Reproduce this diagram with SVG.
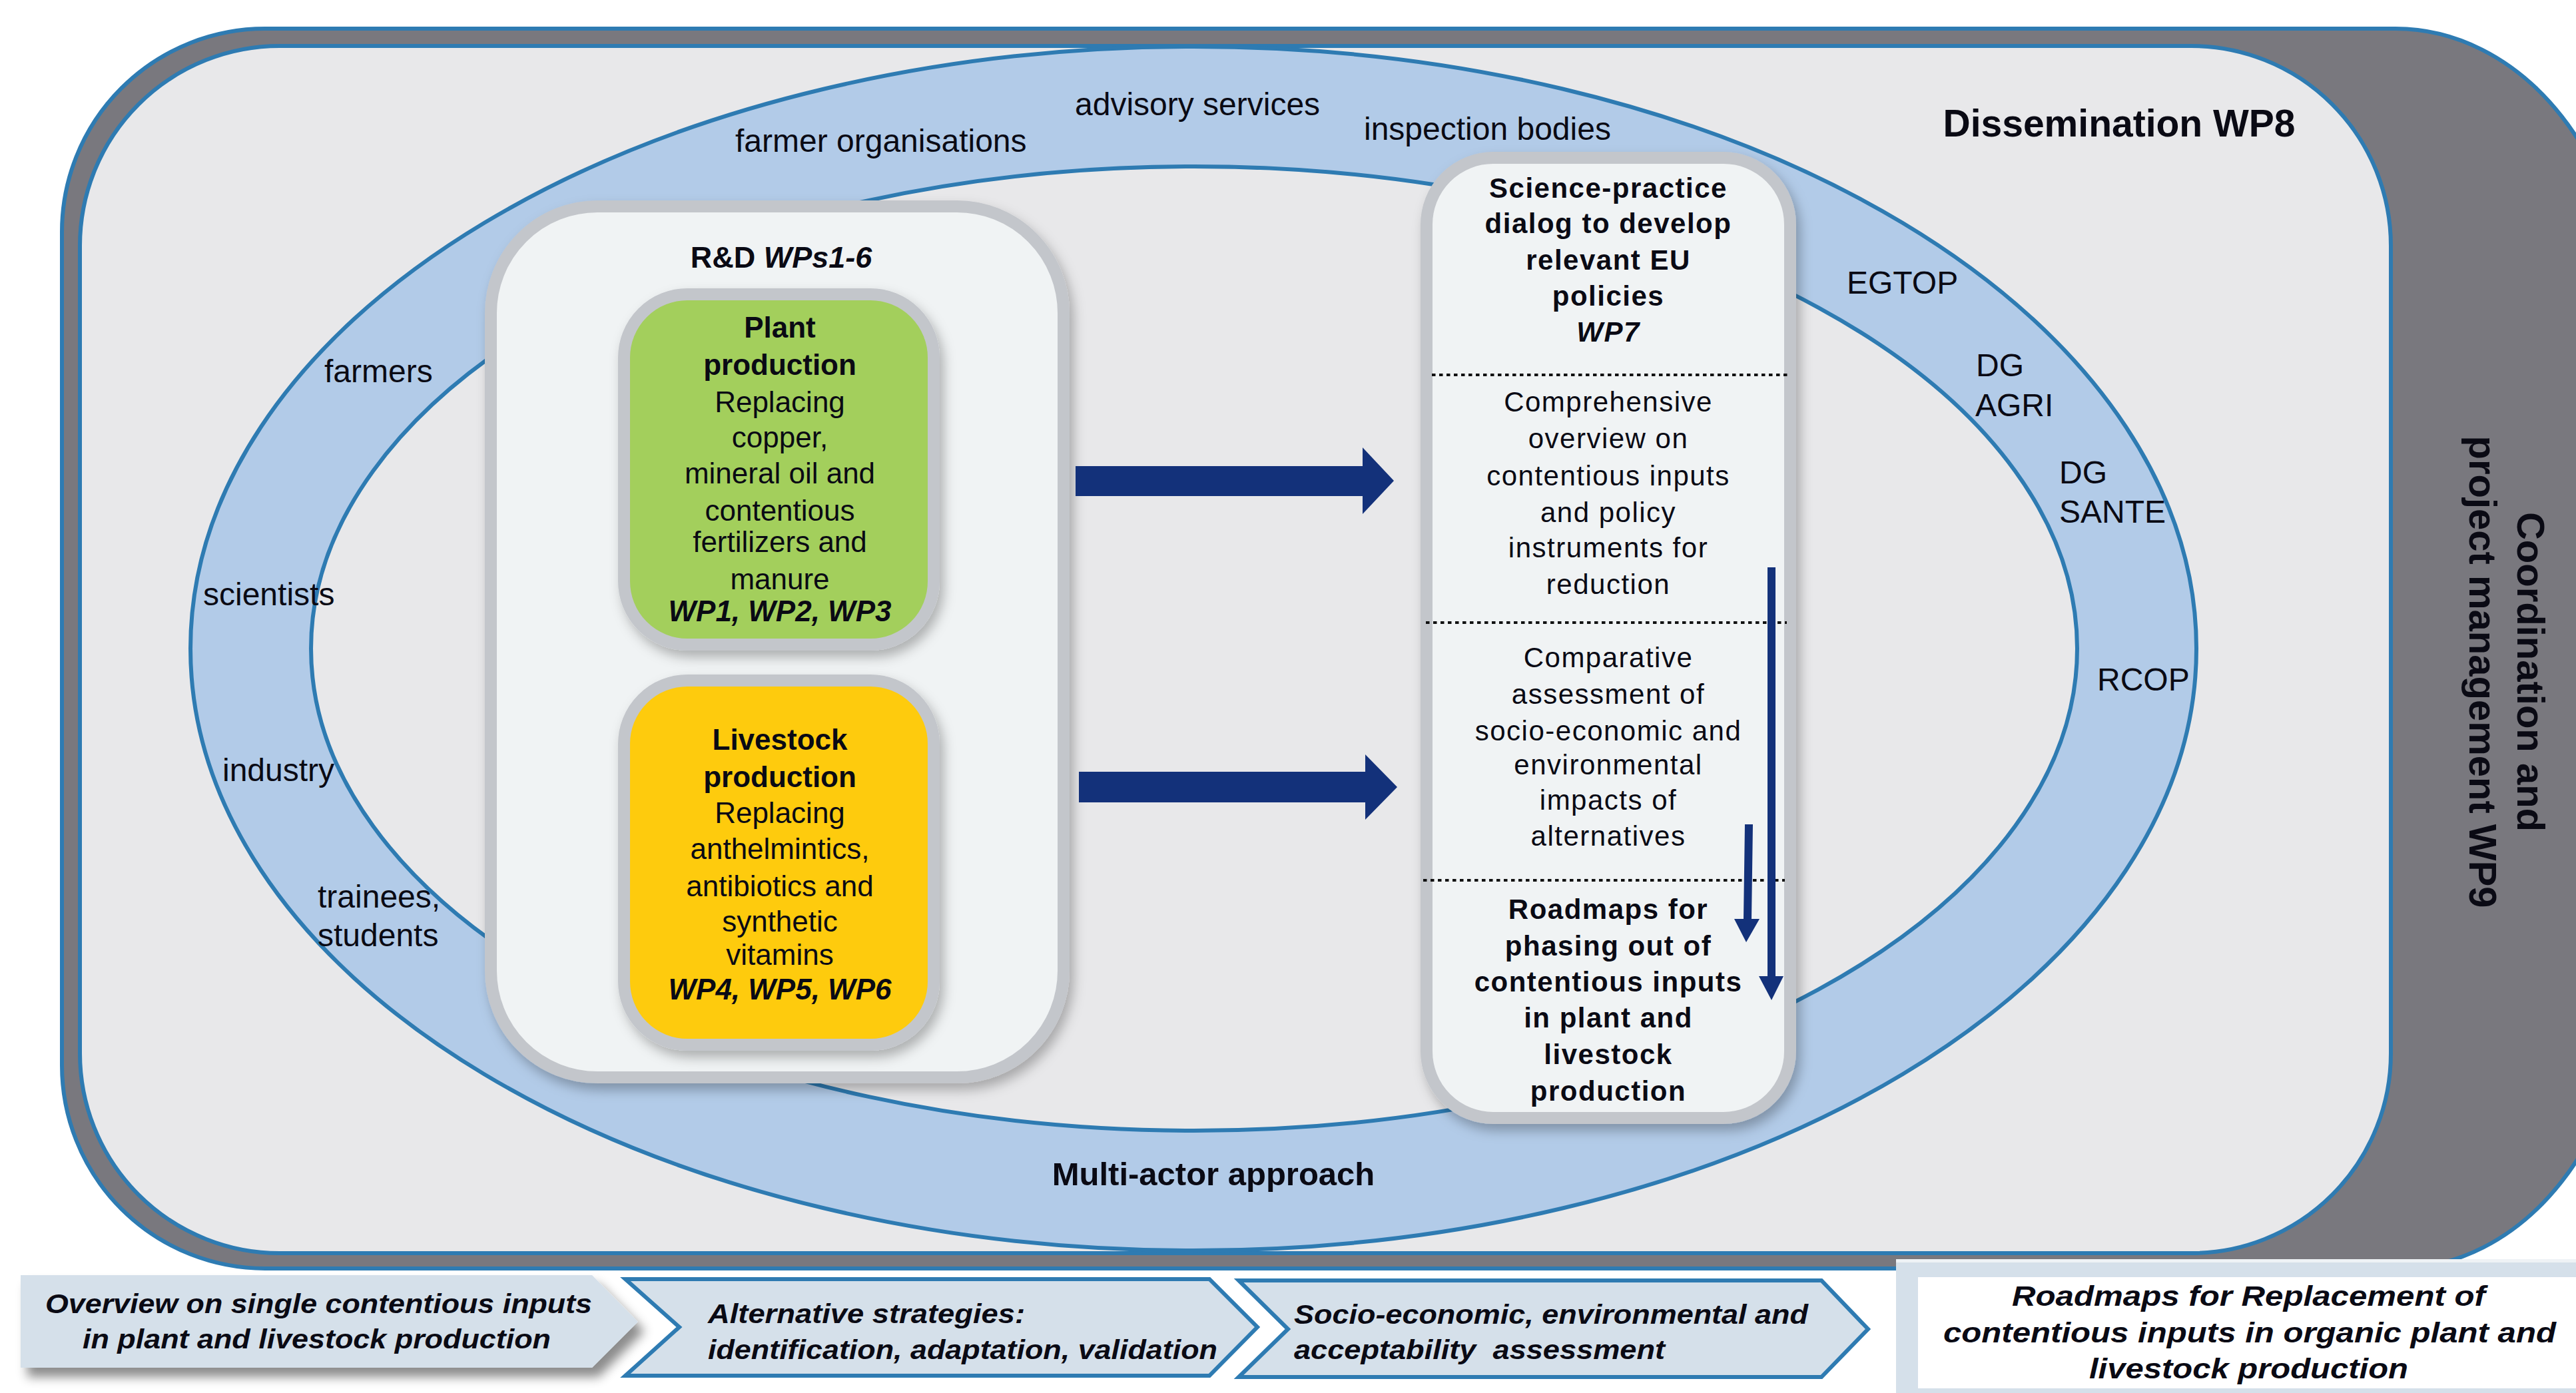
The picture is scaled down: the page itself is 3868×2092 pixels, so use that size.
<svg xmlns="http://www.w3.org/2000/svg" width="3868" height="2092" viewBox="0 0 3868 2092">
<defs>
<style>
text{font-family:"Liberation Sans",Arial,sans-serif;fill:#0a0a14}
.lbl{font-size:48px}
.b{font-weight:bold}
.bi{font-weight:bold;font-style:italic}
.box{fill:#f0f3f4;stroke:#c3c6cb;stroke-width:18}
.wp7t{font-size:42px;letter-spacing:1.5px;text-anchor:middle}
.pt{font-size:44px;text-anchor:middle}
.dot{stroke:#111;stroke-width:4;stroke-dasharray:5.5 5.5;fill:none}
.arr{fill:#13317a}
.chev{fill:#d5e0ea;stroke:#2e7bb2;stroke-width:6}
.st{font-size:40px;font-weight:bold;font-style:italic}
</style>
<filter id="sh" x="-10%" y="-10%" width="130%" height="130%">
<feDropShadow dx="6" dy="10" stdDeviation="9" flood-color="#000" flood-opacity="0.28"/>
</filter>
<filter id="sh2" x="-10%" y="-20%" width="130%" height="160%">
<feDropShadow dx="10" dy="14" stdDeviation="8" flood-color="#000" flood-opacity="0.45"/>
</filter>
</defs>
<rect width="3868" height="2092" fill="#fff"/>

<g id="coordination-frame">
<path d="M398,43 L3597,43 A353,450 0 0 1 3950,493 L3950,1455 A350,450 0 0 1 3600,1905 L398,1905 A305,305 0 0 1 93,1600 L93,348 A305,305 0 0 1 398,43 Z" fill="#79787e" stroke="#2e7bb2" stroke-width="6"/>
<text class="b" font-size="58" text-anchor="middle" transform="translate(3780,1009) rotate(90)">Coordination and</text>
<text class="b" font-size="58" text-anchor="middle" transform="translate(3708,1009) rotate(90)">project management WP9</text>
</g>

<g id="dissemination-panel">
<path d="M420,69 L3290,69 A300,300 0 0 1 3590,369 L3590,1582 A300,300 0 0 1 3290,1882 L420,1882 A300,300 0 0 1 120,1582 L120,369 A300,300 0 0 1 420,69 Z" fill="#e8e8ea" stroke="#2e7bb2" stroke-width="6"/>
<text class="b" font-size="57" x="3182" y="205" text-anchor="middle">Dissemination WP8</text>
</g>

<g id="multi-actor-ring">
<ellipse cx="1792" cy="974" rx="1506" ry="904" fill="#b2cbe8" stroke="#2e7bb2" stroke-width="6"/>
<ellipse cx="1793" cy="974" rx="1326" ry="724" fill="#e8e8ea" stroke="#2e7bb2" stroke-width="6"/>
<text class="lbl" x="1104" y="228">farmer organisations</text>
<text class="lbl" x="1614" y="173">advisory services</text>
<text class="lbl" x="2048" y="210">inspection bodies</text>
<text class="lbl" x="487" y="574">farmers</text>
<text class="lbl" x="305" y="909">scientists</text>
<text class="lbl" x="334" y="1173">industry</text>
<text class="lbl" x="477" y="1363">trainees,</text>
<text class="lbl" x="477" y="1421">students</text>
<text class="lbl" x="2773" y="441">EGTOP</text>
<text class="lbl" x="2967" y="565">DG</text>
<text class="lbl" x="2966" y="625">AGRI</text>
<text class="lbl" x="3092" y="726">DG</text>
<text class="lbl" x="3092" y="785">SANTE</text>
<text class="lbl" x="3149" y="1037">RCOP</text>
<text class="b" font-size="49" x="1822" y="1780" text-anchor="middle">Multi-actor approach</text>
</g>

<g id="rd-box">
<rect class="box" x="737" y="310" width="860" height="1308" rx="160" filter="url(#sh)"/>
<text class="b" font-size="45" x="1173" y="402" text-anchor="middle">R&amp;D <tspan font-style="italic">WPs1-6</tspan></text>
</g>

<g id="plant-production">
<rect x="937" y="442" width="465" height="526" rx="95" fill="#a3cf5b" stroke="#c3c6cb" stroke-width="18" filter="url(#sh)"/>
<text class="pt b" x="1171" y="507">Plant</text>
<text class="pt b" x="1171" y="563">production</text>
<text class="pt" x="1171" y="619">Replacing</text>
<text class="pt" x="1171" y="672">copper,</text>
<text class="pt" x="1171" y="726">mineral oil and</text>
<text class="pt" x="1171" y="782">contentious</text>
<text class="pt" x="1171" y="829">fertilizers and</text>
<text class="pt" x="1171" y="885">manure</text>
<text class="pt bi" x="1171" y="933" font-size="42">WP1, WP2, WP3</text>
</g>

<g id="livestock-production">
<rect x="937" y="1022" width="465" height="547" rx="95" fill="#fecb0d" stroke="#c3c6cb" stroke-width="18" filter="url(#sh)"/>
<text class="pt b" x="1171" y="1126">Livestock</text>
<text class="pt b" x="1171" y="1182">production</text>
<text class="pt" x="1171" y="1236">Replacing</text>
<text class="pt" x="1171" y="1290">anthelmintics,</text>
<text class="pt" x="1171" y="1346">antibiotics and</text>
<text class="pt" x="1171" y="1399">synthetic</text>
<text class="pt" x="1171" y="1449">vitamins</text>
<text class="pt bi" x="1171" y="1501" font-size="42">WP4, WP5, WP6</text>
</g>

<g id="wp7-box">
<rect class="box" x="2142" y="237" width="546" height="1442" rx="100" filter="url(#sh)"/>
<text class="wp7t b" x="2415" y="297">Science-practice</text>
<text class="wp7t b" x="2415" y="350">dialog to develop</text>
<text class="wp7t b" x="2415" y="405">relevant EU</text>
<text class="wp7t b" x="2415" y="459">policies</text>
<text class="wp7t bi" x="2415" y="513">WP7</text>
<line class="dot" x1="2150" y1="563" x2="2689" y2="563"/>
<text class="wp7t" x="2415" y="618">Comprehensive</text>
<text class="wp7t" x="2415" y="673">overview on</text>
<text class="wp7t" x="2415" y="729">contentious inputs</text>
<text class="wp7t" x="2415" y="784">and policy</text>
<text class="wp7t" x="2415" y="837">instruments for</text>
<text class="wp7t" x="2415" y="892">reduction</text>
<line class="dot" x1="2141" y1="935" x2="2683" y2="935"/>
<text class="wp7t" x="2415" y="1002">Comparative</text>
<text class="wp7t" x="2415" y="1057">assessment of</text>
<text class="wp7t" x="2415" y="1112">socio-economic and</text>
<text class="wp7t" x="2415" y="1163">environmental</text>
<text class="wp7t" x="2415" y="1216">impacts of</text>
<text class="wp7t" x="2415" y="1270">alternatives</text>
<line class="dot" x1="2137" y1="1322" x2="2680" y2="1322"/>
<text class="wp7t b" x="2415" y="1380">Roadmaps for</text>
<text class="wp7t b" x="2415" y="1435">phasing out of</text>
<text class="wp7t b" x="2415" y="1489">contentious inputs</text>
<text class="wp7t b" x="2415" y="1543">in plant and</text>
<text class="wp7t b" x="2415" y="1598">livestock</text>
<text class="wp7t b" x="2415" y="1653">production</text>
</g>

<g id="connectors">
<polygon class="arr" points="1615,700 2046,700 2046,672 2093,722 2046,772 2046,745 1615,745"/>
<polygon class="arr" points="1620,1159 2050,1159 2050,1133 2098,1182 2050,1231 2050,1205 1620,1205"/>
<polygon class="arr" points="2654,852 2666,852 2666,1466 2678,1466 2660,1502 2641,1466 2654,1466"/>
<polygon class="arr" points="2620,1238 2632,1238 2630,1380 2642,1380 2622,1415 2604,1380 2618,1380"/>
</g>

<g id="step-1">
<polygon points="31,1915 889,1915 958,1985 889,2054 31,2054" fill="#d5e0ea" filter="url(#sh2)"/>
<text class="st" x="68" y="1972" textLength="821" lengthAdjust="spacingAndGlyphs">Overview on single contentious inputs</text>
<text class="st" x="124" y="2025" textLength="703" lengthAdjust="spacingAndGlyphs">in plant and livestock production</text>
</g>
<g id="step-2">
<polygon class="chev" points="939,1921 1816,1921 1888,1993 1816,2066 939,2066 1020,1993"/>
<text class="st" x="1063" y="1987" textLength="476" lengthAdjust="spacingAndGlyphs">Alternative strategies:</text>
<text class="st" x="1063" y="2041" textLength="765" lengthAdjust="spacingAndGlyphs">identification, adaptation, validation</text>
</g>
<g id="step-3">
<polygon class="chev" points="1860,1923 2735,1923 2805,1996 2735,2068 1860,2068 1934,1996"/>
<text class="st" x="1943" y="1988" textLength="772" lengthAdjust="spacingAndGlyphs">Socio-economic, environmental and</text>
<text class="st" x="1943" y="2041" textLength="557" lengthAdjust="spacingAndGlyphs" xml:space="preserve">acceptability  assessment</text>
</g>
<g id="step-4">
<rect x="2847" y="1891" width="1030" height="210" fill="#d5e0ea"/>
<rect x="2847" y="1891" width="1030" height="5" fill="#eef2f5"/>
<rect x="2880" y="1918" width="1000" height="167" fill="#ffffff"/>
<text class="bi" font-size="42" x="3021" y="1961" textLength="711" lengthAdjust="spacingAndGlyphs">Roadmaps for Replacement of</text>
<text class="bi" font-size="42" x="2918" y="2016" textLength="920" lengthAdjust="spacingAndGlyphs">contentious inputs in organic plant and</text>
<text class="bi" font-size="42" x="3137" y="2070" textLength="479" lengthAdjust="spacingAndGlyphs">livestock production</text>
</g>
</svg>
